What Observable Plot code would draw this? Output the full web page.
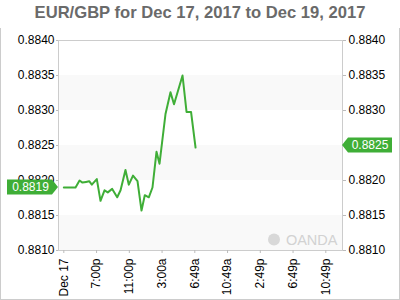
<!DOCTYPE html>
<html><head><meta charset="utf-8">
<script src="https://cdn.jsdelivr.net/npm/d3@7"></script>
<script src="https://cdn.jsdelivr.net/npm/@observablehq/plot@0.6"></script>
<style>
body{margin:0;background:#fff;font-family:"Liberation Sans",Arial,sans-serif;}
#title{height:28px;box-sizing:border-box;padding-top:4px;text-align:center;font-size:16.6px;line-height:17px;font-weight:bold;color:#6a6a6a;white-space:nowrap;}
#box{width:400px;height:272px;box-sizing:border-box;border:1px solid #ccc;border-top:none;}
#box svg{display:block;}
</style></head><body>
<div id="title">EUR/GBP for Dec 17, 2017 to Dec 19, 2017</div>
<div id="box"></div>
<script>
// hours since the "Dec 17" tick
const hours = [0, 1.43, 1.92, 2.28, 2.71, 3.10, 3.42, 4.03, 4.48, 4.97, 5.37, 5.91, 6.52, 6.93, 7.53, 7.94, 8.45, 9.00, 9.49, 9.89, 10.38, 10.83, 11.32, 11.69, 12.42, 13.03, 13.46, 14.50, 14.99, 15.54, 16.09];
const rates = [0.88190, 0.88190, 0.88200, 0.88197, 0.88198, 0.88199, 0.88194, 0.88202, 0.88171, 0.88186, 0.88183, 0.88188, 0.88176, 0.88186, 0.88215, 0.88194, 0.88207, 0.88199, 0.88157, 0.88179, 0.88176, 0.88190, 0.88241, 0.88224, 0.88295, 0.88326, 0.88309, 0.88350, 0.88298, 0.88298, 0.88247];
const tickHours = [0, 4, 8, 12, 16, 20, 24, 28, 32];
const tickLabels = ["Dec 17", "7:00p", "11:00p", "3:00a", "6:49a", "10:49a", "2:49p", "6:49p", "10:49p"];
const yTicks = [0.8810, 0.8815, 0.8820, 0.8825, 0.8830, 0.8835, 0.8840];
const bandLows = [0.8830, 0.8820, 0.8810];
const openRate = 0.8819;
const lastRate = 0.8825;
const watermark = "OANDA";

const green = "#3fae37";
const data = hours.map((h, i) => ({h, r: rates[i]}));
const bands = bandLows.map(lo => ({lo, hi: lo + 0.0005}));
const W = 398, H = 271, ML = 57, MR = 57, MT = 12, MB = 49;
const fmt = d3.format(".4f");

const chart = Plot.plot({
  width: W, height: H,
  marginLeft: ML, marginRight: MR, marginTop: MT, marginBottom: MB,
  style: {fontFamily: "Liberation Sans, Arial, sans-serif", fontSize: "12px", background: "#fff", color: "#000"},
  x: {type: "linear", domain: [-0.65, 34.04]},
  y: {domain: [0.8810, 0.8840]},
  marks: [
    Plot.rect(bands, {y1: "lo", y2: "hi", fill: "#f9f9f9"}),
    Plot.frame({stroke: "#ccc"}),
    Plot.text([watermark], {frameAnchor: "bottom-right", dx: -5, dy: -6, fill: "#d2d2d2", fontSize: 14.5}),
    Plot.axisY({anchor: "left", ticks: yTicks, tickFormat: fmt, tickSize: 2, tickPadding: 2, label: null, stroke: "#bbb", fill: "#000"}),
    Plot.axisY({anchor: "right", ticks: yTicks, tickFormat: d => Math.abs(d - lastRate) < 1e-7 ? "" : fmt(d), tickSize: 3, tickPadding: 3, label: null, stroke: "#bbb", fill: "#000"}),
    Plot.axisX({anchor: "bottom", ticks: tickHours, tickFormat: d => tickLabels[tickHours.indexOf(d)], tickRotate: -90, tickSize: 3, tickPadding: 5, label: null, stroke: "#bbb", fill: "#000"}),
    Plot.line(data, {x: "h", y: "r", stroke: green, strokeWidth: 2})
  ]
});
document.getElementById("box").appendChild(chart);

const ys = chart.scale("y");
const svg = d3.select(chart);
function badge(value, side) {
  const cy = ys.apply(value);
  const hh = 7.5;
  let pts, tx;
  if (side === "left") {
    const tip = ML, bodyR = ML - 6, bodyL = ML - 51;
    pts = [[bodyL, cy - hh], [bodyR, cy - hh], [tip, cy], [bodyR, cy + hh], [bodyL, cy + hh]];
    tx = (bodyL + bodyR) / 2 + 1;
  } else {
    const tip = W - MR, bodyL = tip + 6, bodyR = tip + 50;
    pts = [[tip, cy], [bodyL, cy - hh], [bodyR, cy - hh], [bodyR, cy + hh], [bodyL, cy + hh]];
    tx = (bodyL + bodyR) / 2;
  }
  const g = svg.append("g");
  g.append("path").attr("d", "M" + pts.map(p => p.join(",")).join("L") + "Z").attr("fill", green);
  g.append("text").attr("x", tx).attr("y", cy).attr("dy", "0.35em").attr("text-anchor", "middle")
    .attr("fill", "#fff").attr("font-size", 12).text(fmt(value));
}
badge(openRate, "left");
badge(lastRate, "right");
// watermark icon
svg.append("circle").attr("cx", W - MR - 68).attr("cy", H - MB - 10.5).attr("r", 6).attr("fill", "#d8d8d8");
</script>
</body></html>
